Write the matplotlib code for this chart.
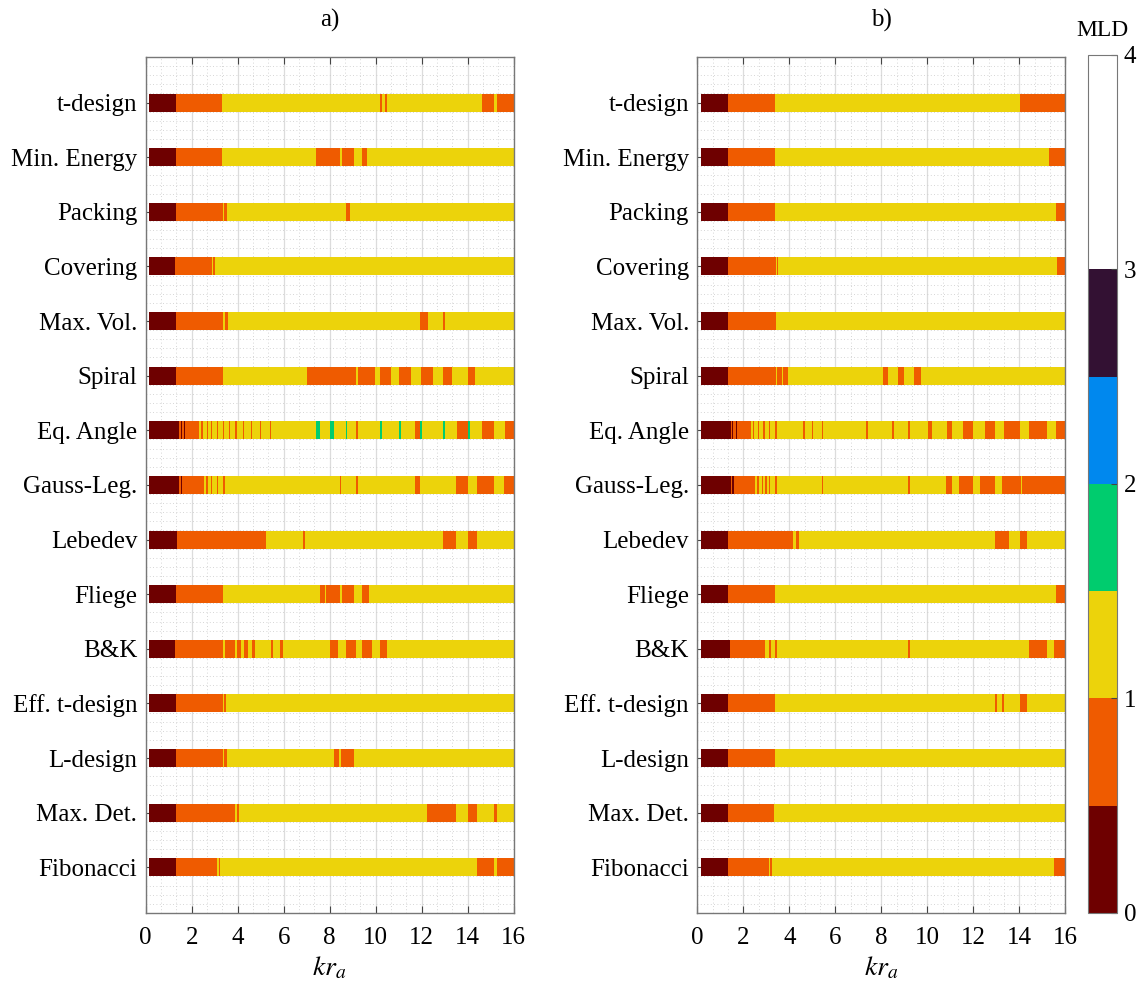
import numpy as np
import matplotlib
matplotlib.use("Agg")
import matplotlib.pyplot as plt
from matplotlib.colors import ListedColormap, BoundaryNorm
from matplotlib.ticker import MultipleLocator, AutoMinorLocator

plt.rcParams['font.family'] = ['Liberation Serif', 'DejaVu Serif']
plt.rcParams['mathtext.fontset'] = 'stix'

methods = ['t-design', 'Min. Energy', 'Packing', 'Covering', 'Max. Vol.', 'Spiral',
           'Eq. Angle', 'Gauss-Leg.', 'Lebedev', 'Fliege', 'B&K', 'Eff. t-design',
           'L-design', 'Max. Det.', 'Fibonacci']

kr_max = 16.0

# MLD value of each band (one per colour step)
D, O, Y, G = 0.25, 0.75, 1.25, 1.75

# (kr where the band starts, MLD) - last band runs up to kr_max
mld_a = [
    [(0.15, D), (1.32, O), (3.33, Y), (10.19, O), (10.27, Y), (10.40, O), (10.49, Y), (14.64, O), (15.14, Y), (15.27, O)],
    [(0.15, D), (1.32, O), (3.33, Y), (7.40, O), (8.45, Y), (8.52, O), (9.07, Y), (9.42, O), (9.62, Y)],
    [(0.15, D), (1.32, O), (3.37, Y), (3.42, O), (3.52, Y), (8.70, O), (8.88, Y)],
    [(0.15, D), (1.27, O), (2.87, Y), (2.93, O), (3.00, Y)],
    [(0.15, D), (1.32, O), (3.37, Y), (3.44, O), (3.57, Y), (11.93, O), (12.27, Y), (12.93, O), (13.03, Y)],
    [(0.15, D), (1.32, O), (3.35, Y), (7.00, O), (9.14, Y), (9.22, O), (9.98, Y), (10.19, O), (10.65, Y),
     (11.03, O), (11.52, Y), (11.96, O), (12.48, Y), (12.94, O), (13.32, Y), (14.01, O), (14.30, Y)],
    [(0.15, D), (1.45, O), (1.52, D), (1.57, O), (1.65, D), (1.70, O), (2.32, Y), (2.39, O), (2.49, Y),
     (2.65, O), (2.71, Y), (2.84, O), (2.90, Y), (3.10, O), (3.14, Y), (3.38, O), (3.42, Y), (3.61, O),
     (3.67, Y), (3.88, O), (3.97, Y), (4.23, O), (4.29, Y), (4.59, O), (4.64, Y), (4.98, O), (5.03, Y),
     (5.39, O), (5.43, Y), (7.40, G), (7.58, Y), (8.01, G), (8.19, Y), (8.70, G), (8.75, Y), (9.13, O),
     (9.22, Y), (10.19, G), (10.26, Y), (11.03, G), (11.10, Y), (11.71, O), (11.94, G), (12.02, Y),
     (12.93, G), (13.01, Y), (13.52, O), (14.00, G), (14.10, Y), (14.64, O), (15.14, Y), (15.61, O)],
    [(0.15, D), (1.45, O), (1.52, D), (1.57, O), (2.55, Y), (2.61, O), (2.70, Y), (2.84, O), (2.90, Y),
     (3.10, O), (3.14, Y), (3.36, O), (3.43, Y), (8.45, O), (8.51, Y), (9.14, O), (9.22, Y), (11.70, O),
     (11.93, Y), (13.51, O), (14.00, Y), (14.42, O), (15.14, Y), (15.58, O)],
    [(0.15, D), (1.35, O), (5.23, Y), (6.84, O), (6.91, Y), (12.93, O), (13.49, Y), (14.01, O), (14.42, Y)],
    [(0.15, D), (1.32, O), (3.35, Y), (7.58, O), (7.80, Y), (7.86, O), (8.45, Y), (8.52, O), (9.07, Y),
     (9.42, O), (9.70, Y)],
    [(0.15, D), (1.29, O), (3.37, Y), (3.43, O), (3.88, Y), (3.96, O), (4.13, Y), (4.28, O), (4.45, Y),
     (4.62, O), (4.74, Y), (5.43, O), (5.55, Y), (5.84, O), (5.98, Y), (8.01, O), (8.37, Y), (8.70, O),
     (9.14, Y), (9.40, O), (9.84, Y), (10.19, O), (10.49, Y)],
    [(0.15, D), (1.32, O), (3.35, Y), (3.41, O), (3.51, Y)],
    [(0.15, D), (1.32, O), (3.37, Y), (3.42, O), (3.52, Y), (8.19, O), (8.42, Y), (8.51, O), (9.07, Y)],
    [(0.15, D), (1.32, O), (3.90, Y), (3.96, O), (4.06, Y), (12.22, O), (13.49, Y), (14.01, O), (14.42, Y),
     (15.16, O), (15.27, Y)],
    [(0.15, D), (1.32, O), (3.11, Y), (3.17, O), (3.24, Y), (14.42, O), (15.16, Y), (15.27, O)],
]

mld_b = [
    [(0.15, D), (1.35, O), (3.38, Y), (14.03, O)],
    [(0.15, D), (1.35, O), (3.38, Y), (15.30, O)],
    [(0.15, D), (1.35, O), (3.38, Y), (15.62, O)],
    [(0.15, D), (1.35, O), (3.41, Y), (3.47, O), (3.52, Y), (15.64, O)],
    [(0.15, D), (1.35, O), (3.42, Y)],
    [(0.15, D), (1.35, O), (3.41, Y), (3.48, O), (3.67, Y), (3.71, O), (3.95, Y), (8.06, O), (8.29, Y),
     (8.73, O), (8.97, Y), (9.43, O), (9.71, Y)],
    [(0.15, D), (1.47, O), (1.52, D), (1.57, O), (1.67, D), (1.73, O), (2.33, Y), (2.41, O), (2.48, Y),
     (2.62, O), (2.70, Y), (2.87, O), (2.93, Y), (3.12, O), (3.16, Y), (3.38, O), (3.45, Y), (4.61, O),
     (4.68, Y), (4.99, O), (5.05, Y), (5.42, O), (5.47, Y), (7.33, O), (7.44, Y), (8.47, O), (8.54, Y),
     (9.17, O), (9.25, Y), (10.02, O), (10.22, Y), (10.84, O), (11.06, Y), (11.57, O), (11.97, Y),
     (12.51, O), (12.96, Y), (13.33, O), (14.03, Y), (14.43, O), (15.19, Y), (15.62, O)],
    [(0.15, D), (1.47, O), (1.52, D), (1.58, O), (2.51, Y), (2.58, O), (2.68, Y), (2.80, O), (2.86, Y),
     (2.96, O), (3.02, Y), (3.12, O), (3.16, Y), (3.39, O), (3.47, Y), (5.42, O), (5.47, Y), (9.16, O),
     (9.25, Y), (10.81, O), (11.06, Y), (11.36, O), (11.97, Y), (12.29, O), (12.96, Y), (13.25, O),
     (14.06, Y), (14.13, O)],
    [(0.15, D), (1.35, O), (3.97, Y), (4.00, O), (4.15, Y), (4.29, O), (4.41, Y), (12.96, O), (13.55, Y),
     (14.03, O), (14.33, Y)],
    [(0.15, D), (1.35, O), (3.38, Y), (15.59, O)],
    [(0.15, D), (1.41, O), (2.94, Y), (3.12, O), (3.20, Y), (3.38, O), (3.47, Y), (9.16, O), (9.25, Y),
     (14.43, O), (15.19, Y), (15.52, O)],
    [(0.15, D), (1.35, O), (3.38, Y), (12.96, O), (13.05, Y), (13.24, O), (13.33, Y), (14.03, O), (14.33, Y)],
    [(0.15, D), (1.35, O), (3.38, Y)],
    [(0.15, D), (1.35, O), (3.32, Y)],
    [(0.15, D), (1.35, O), (3.12, Y), (3.17, O), (3.26, Y), (15.52, O)],
]

mld_colors = ['#6e0000', '#ef5b00', '#ecd30b', '#00cc6e', '#0088ee', '#331133', '#ffffff', '#ffffff']
mld_bounds = np.arange(0, 4.01, 0.5)
cmap = ListedColormap(mld_colors)
norm = BoundaryNorm(mld_bounds, cmap.N)

fig = plt.figure(figsize=(11.41, 9.82), dpi=100)
ax_a = fig.add_axes([0.1277, 0.0703, 0.3225, 0.8717])
ax_b = fig.add_axes([0.6111, 0.0703, 0.3225, 0.8717])
cax = fig.add_axes([0.9536, 0.0703, 0.0254, 0.8737])

bar_h = 0.33
rows = np.arange(1, len(methods) + 1)


def draw_panel(ax, data, title):
    mesh = None
    for y, segs in zip(rows, data):
        edges = np.array([s for s, _ in segs] + [kr_max])
        vals = np.array([[v for _, v in segs]])
        mesh = ax.pcolormesh(edges, [y - bar_h / 2, y + bar_h / 2], vals,
                             cmap=cmap, norm=norm, edgecolors='none', zorder=2)
    ax.set_xlim(0, 16)
    ax.set_ylim(rows[-1] + 0.835, rows[0] - 0.835)
    ax.set_yticks(rows)
    ax.set_yticklabels(methods)
    ax.set_xticks(np.arange(0, 17, 2))
    ax.xaxis.set_minor_locator(AutoMinorLocator(3))
    ax.yaxis.set_minor_locator(MultipleLocator(1 / 6))
    ax.grid(which='major', axis='x', color='#dcdcdc', lw=0.9, zorder=0)
    ax.grid(which='minor', color='#c8c8c8', lw=0.6, ls=(0, (1, 3)), zorder=0)
    ax.set_axisbelow(True)
    ax.tick_params(which='major', direction='in', length=5, top=True, right=False,
                   labelsize=18, color='#444444')
    ax.tick_params(which='major', axis='x', pad=10)
    ax.tick_params(which='major', axis='y', pad=6)
    ax.tick_params(which='minor', length=0)
    for sp in ax.spines.values():
        sp.set_color('#777777')
        sp.set_linewidth(1.0)
    ax.set_xlabel('$kr_a$', fontsize=20, labelpad=4)
    ax.set_title(title, fontsize=18, pad=22)
    return mesh


draw_panel(ax_a, mld_a, 'a)')
mesh = draw_panel(ax_b, mld_b, 'b)')

cb = fig.colorbar(mesh, cax=cax, ticks=[0, 1, 2, 3, 4])
cb.minorticks_off()
cb.outline.set_edgecolor('#777777')
cax.tick_params(direction='in', length=4, labelsize=18, color='#444444', pad=5)
cax.set_title('MLD', fontsize=17, pad=14)

fig.savefig('out.png', dpi=100)
